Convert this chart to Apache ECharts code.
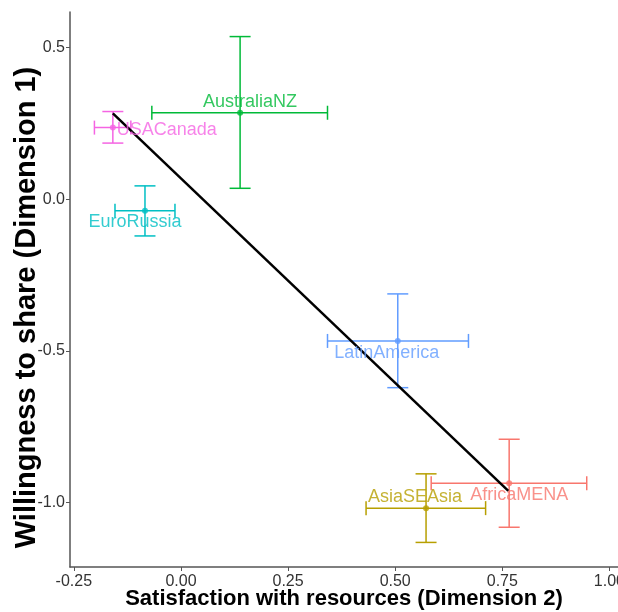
<!DOCTYPE html>
<html>
<head>
<meta charset="utf-8">
<script src="https://cdn.jsdelivr.net/npm/echarts@6/dist/echarts.min.js"></script>
<style>
  html, body { margin: 0; padding: 0; background: #fff; }
  #chart { width: 618px; height: 612px; }
</style>
</head>
<body>
<div id="chart"></div>
<script>
// regions, alphabetical like the ggplot factor order
const regions = ['AfricaMENA', 'AsiaSEAsia', 'AustraliaNZ', 'EuroRussia', 'LatinAmerica', 'USACanada']
const dim2 = [0.766, 0.572, 0.138, -0.084, 0.506, -0.159]
const dim1 = [-0.936, -1.018, 0.285, -0.038, -0.467, 0.236]
const dim2Low = [0.584, 0.432, -0.068, -0.154, 0.342, -0.202]
const dim2High = [0.947, 0.711, 0.342, -0.014, 0.671, -0.117]
const dim1Low = [-1.081, -1.131, 0.036, -0.121, -0.621, 0.185]
const dim1High = [-0.791, -0.905, 0.536, 0.044, -0.312, 0.289]

// fitted line ends
const fitX = [-0.159, 0.764]
const fitY = [0.283, -0.961]

const xTicks = [-0.25, 0, 0.25, 0.5, 0.75, 1]
const yTicks = [-1, -0.5, 0, 0.5]

const colors = ['#F8766D', '#B79F00', '#00BA38', '#00BFC4', '#619CFF', '#F564E3']
// label nudges in px (center of text relative to point)
const labelOffset = [[10, 12], [-11, -11], [10, -11], [-10, 11], [-11, 12], [54, 2]]

const font = 'Liberation Sans, Arial, sans-serif'

const chart = echarts.init(document.getElementById('chart'))

const errData = regions.map((r, i) => [dim2[i], dim1[i], dim2Low[i], dim2High[i], dim1Low[i], dim1High[i]])

function renderErr(params, api) {
  const x = api.value(0), y = api.value(1)
  const col = colors[params.dataIndex]
  const l = api.coord([api.value(2), y])
  const h = api.coord([api.value(3), y])
  const b = api.coord([x, api.value(4)])
  const t = api.coord([x, api.value(5)])
  const capW = 10.5, capH = 7
  const st = { stroke: col, lineWidth: 1.5 }
  const ln = (x1, y1, x2, y2) => ({ type: 'line', shape: { x1, y1, x2, y2 }, style: st })
  return {
    type: 'group',
    children: [
      ln(l[0], l[1], h[0], h[1]),
      ln(l[0], l[1] - capH, l[0], l[1] + capH),
      ln(h[0], h[1] - capH, h[0], h[1] + capH),
      ln(b[0], b[1], t[0], t[1]),
      ln(t[0] - capW, t[1], t[0] + capW, t[1]),
      ln(b[0] - capW, b[1], b[0] + capW, b[1])
    ]
  }
}

chart.setOption({
  animation: false,
  grid: { left: 70, top: 12, right: 0, bottom: 45, outerBoundsMode: 'none', containLabel: false },
  xAxis: {
    type: 'value',
    min: -0.259,
    max: 1.02,
    name: 'Satisfaction with resources (Dimension 2)',
    nameLocation: 'middle',
    nameGap: 21,
    nameMoveOverlap: false,
    nameTextStyle: { fontFamily: font, fontWeight: 'bold', fontSize: 22, color: '#000' },
    splitLine: { show: false },
    axisLine: { show: true, onZero: false, lineStyle: { color: '#555', width: 1.5 } },
    axisTick: { show: true, length: 4, customValues: xTicks, lineStyle: { color: '#555' } },
    axisLabel: {
      customValues: xTicks,
      margin: 7,
      fontFamily: font, fontSize: 16, color: '#333',
      formatter: v => v.toFixed(2)
    }
  },
  yAxis: {
    type: 'value',
    min: -1.212,
    max: 0.617,
    name: 'Willingness to share (Dimension 1)',
    nameLocation: 'middle',
    nameGap: 29,
    nameMoveOverlap: false,
    nameTextStyle: { fontFamily: font, fontWeight: 'bold', fontSize: 29, color: '#000', padding: [0, 36, 0, 0] },
    splitLine: { show: false },
    axisLine: { show: true, onZero: false, lineStyle: { color: '#555', width: 1.5 } },
    axisTick: { show: true, length: 4, customValues: yTicks, lineStyle: { color: '#555' } },
    axisLabel: {
      customValues: yTicks,
      margin: 5,
      fontFamily: font, fontSize: 16, color: '#333',
      formatter: v => v.toFixed(1)
    }
  },
  series: [
    {
      type: 'custom',
      renderItem: renderErr,
      encode: { x: 0, y: 1 },
      data: errData,
      z: 2
    },
    {
      type: 'line',
      data: fitX.map((x, i) => [x, fitY[i]]),
      showSymbol: false,
      lineStyle: { color: '#000', width: 2.5 },
      z: 3
    },
    {
      type: 'scatter',
      symbolSize: 6,
      z: 4,
      data: regions.map((r, i) => ({
        name: r,
        value: [dim2[i], dim1[i]],
        itemStyle: { color: colors[i] },
        label: {
          show: true,
          formatter: r,
          position: 'inside',
          offset: labelOffset[i],
          color: colors[i],
          fontFamily: font,
          fontSize: 18
        }
      }))
    }
  ]
})
</script>
</body>
</html>
